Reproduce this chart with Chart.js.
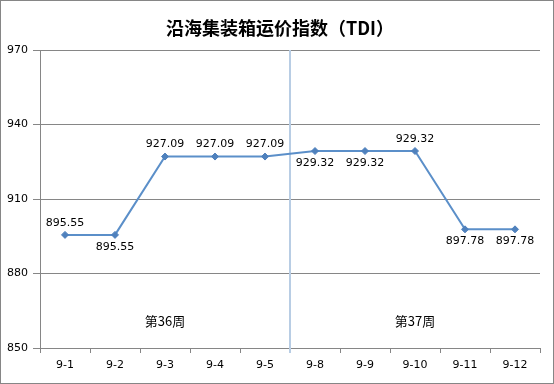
<!DOCTYPE html>
<html>
<head>
<meta charset="utf-8">
<script src="https://cdn.jsdelivr.net/npm/chart.js@4/dist/chart.umd.min.js"></script>
<style>
html,body{margin:0;padding:0;background:#fff;}
canvas{display:block;}
</style>
</head>
<body>
<canvas id="c" width="554" height="384"></canvas>
<script>
const chartTitle = '沿海集装箱运价指数（TDI）';
const categories = ['9-1','9-2','9-3','9-4','9-5','9-8','9-9','9-10','9-11','9-12'];
const tdiValues = [895.55,895.55,927.09,927.09,927.09,929.32,929.32,929.32,897.78,897.78];
const yTicks = [850,880,910,940,970];
const labelSides = ['above','below','above','above','above','below','below','above','below','below'];
const weekLabels = ['第36周','第37周'];
const weekAnchors = ['9-3','9-10'];
const weekTextValue = 861;
const dividerAfter = '9-5';

const extras = {
  id: 'extras',
  beforeDraw(chart) {
    const ctx = chart.ctx;
    ctx.save();
    ctx.fillStyle = '#fff';
    ctx.fillRect(0, 0, chart.width, chart.height);
    ctx.fillStyle = '#000';
    ctx.font = 'bold 18px "Noto Sans CJK SC"';
    ctx.textAlign = 'center';
    ctx.textBaseline = 'middle';
    ctx.fillText(chartTitle, 280, 28.5);
    ctx.restore();
  },
  beforeDatasetsDraw(chart) {
    const ctx = chart.ctx, xs = chart.scales.x, ys = chart.scales.y, area = chart.chartArea;
    const i = categories.indexOf(dividerAfter);
    const px = Math.round((xs.getPixelForValue(i) + xs.getPixelForValue(i + 1)) / 2);
    ctx.save();
    ctx.strokeStyle = '#b8cde4';
    ctx.lineWidth = 2;
    ctx.beginPath();
    ctx.moveTo(px, area.top);
    ctx.lineTo(px, area.bottom + 5);
    ctx.stroke();
    ctx.fillStyle = '#000';
    ctx.font = '13px "Noto Sans CJK SC"';
    ctx.textAlign = 'center';
    ctx.textBaseline = 'middle';
    weekLabels.forEach((t, k) => {
      const x = xs.getPixelForValue(categories.indexOf(weekAnchors[k]));
      ctx.fillText(t, x, ys.getPixelForValue(weekTextValue));
    });
    ctx.restore();
  },
  afterDatasetsDraw(chart) {
    const ctx = chart.ctx;
    const meta = chart.getDatasetMeta(0);
    ctx.save();
    ctx.fillStyle = '#000';
    ctx.font = '11px "DejaVu Sans"';
    ctx.textAlign = 'center';
    ctx.textBaseline = 'middle';
    meta.data.forEach((pt, k) => {
      const dy = labelSides[k] === 'above' ? -12 : 12;
      ctx.fillText(tdiValues[k].toFixed(2), pt.x, pt.y + dy);
    });
    ctx.restore();
  },
  afterDraw(chart) {
    const ctx = chart.ctx;
    ctx.save();
    ctx.strokeStyle = '#868686';
    ctx.lineWidth = 1;
    ctx.strokeRect(0.5, 0.5, chart.width - 1, chart.height - 1);
    ctx.restore();
  }
};

new Chart(document.getElementById('c'), {
  type: 'line',
  data: {
    labels: categories,
    datasets: [{
      data: tdiValues,
      borderColor: '#5b8fc9',
      backgroundColor: '#4f81bd',
      borderWidth: 2,
      pointStyle: 'rectRot',
      pointRadius: 3.5,
      pointBorderWidth: 1,
      pointBorderColor: '#4f81bd',
      tension: 0
    }]
  },
  options: {
    responsive: false,
    devicePixelRatio: 1,
    animation: false,
    layout: { padding: { left: 0, right: 14, top: 50, bottom: 0 } },
    plugins: {
      legend: { display: false },
      tooltip: { enabled: false },
      title: { display: false }
    },
    scales: {
      x: {
        offset: true,
        grid: { offset: true, drawOnChartArea: false, tickLength: 5, color: '#868686' },
        border: { color: '#868686' },
        ticks: { color: '#000', font: { family: '"DejaVu Sans"', size: 11 }, padding: 6, maxRotation: 0, autoSkip: false },
        afterFit(s) { s.height = 36; }
      },
      y: {
        min: 850,
        max: 970,
        afterBuildTicks(s) { s.ticks = yTicks.map(v => ({ value: v })); },
        grid: { color: '#868686', tickLength: 7 },
        border: { color: '#868686' },
        ticks: { color: '#000', font: { family: '"DejaVu Sans"', size: 11 }, padding: 5 },
        afterFit(s) { s.width = 40; }
      }
    }
  },
  plugins: [extras]
});
</script>
</body>
</html>
